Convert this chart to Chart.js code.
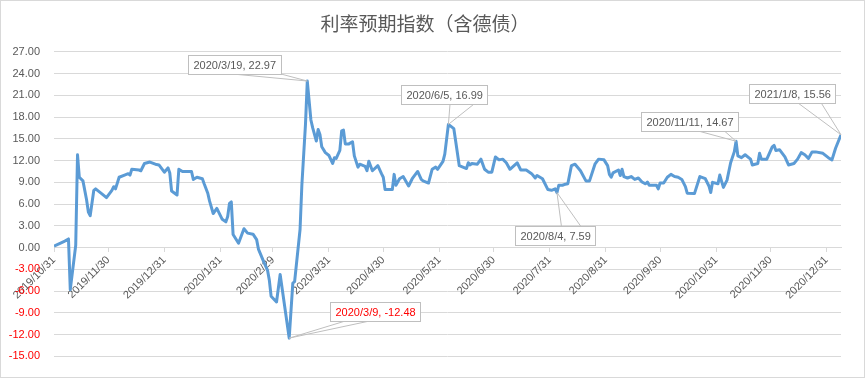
<!DOCTYPE html>
<html>
<head>
<meta charset="utf-8">
<script src="https://cdn.jsdelivr.net/npm/chart.js"></script>
<style>
  body { margin: 0; background: #fff; }
  #wrap { width: 863px; height: 376px; border: 1px solid #d9d9d9; }
</style>
</head>
<body>
<div id="wrap"><canvas id="c" width="863" height="376"></canvas></div>
<script>
// series: 利率预期指数（含德债）
var dates = [
  '2019/10/31','2019/11/6','2019/11/8','2019/11/9','2019/11/12','2019/11/13','2019/11/14','2019/11/16',
  '2019/11/18','2019/11/19','2019/11/20','2019/11/22','2019/11/23','2019/11/27','2019/11/29','2019/12/2',
  '2019/12/3','2019/12/4','2019/12/6','2019/12/9','2019/12/11','2019/12/12','2019/12/13','2019/12/17',
  '2019/12/18','2019/12/20','2019/12/23','2019/12/26','2019/12/28','2019/12/31','2020/1/2','2020/1/3',
  '2020/1/4','2020/1/7','2020/1/8','2020/1/10','2020/1/15','2020/1/16','2020/1/18','2020/1/21',
  '2020/1/22','2020/1/24','2020/1/25','2020/1/27','2020/1/29','2020/2/1','2020/2/3','2020/2/4',
  '2020/2/5','2020/2/6','2020/2/7','2020/2/10','2020/2/13','2020/2/15','2020/2/18','2020/2/20',
  '2020/2/21','2020/2/24','2020/2/26','2020/2/27','2020/2/28','2020/3/2','2020/3/4','2020/3/9',
  '2020/3/11','2020/3/12','2020/3/15','2020/3/16','2020/3/18','2020/3/19','2020/3/21','2020/3/22',
  '2020/3/24','2020/3/25','2020/3/26','2020/3/27','2020/3/29','2020/3/31','2020/4/2','2020/4/3',
  '2020/4/4','2020/4/6','2020/4/7','2020/4/8','2020/4/9','2020/4/11','2020/4/13','2020/4/14',
  '2020/4/16','2020/4/17','2020/4/20','2020/4/21','2020/4/22','2020/4/24','2020/4/27','2020/4/29',
  '2020/4/30','2020/5/1','2020/5/5','2020/5/6','2020/5/7','2020/5/9','2020/5/11','2020/5/14',
  '2020/5/16','2020/5/19','2020/5/21','2020/5/22','2020/5/25','2020/5/27','2020/5/29','2020/5/30',
  '2020/6/2','2020/6/3','2020/6/5','2020/6/8','2020/6/9','2020/6/11','2020/6/15','2020/6/16',
  '2020/6/17','2020/6/18','2020/6/21','2020/6/23','2020/6/25','2020/6/27','2020/6/29','2020/7/1',
  '2020/7/3','2020/7/5','2020/7/7','2020/7/9','2020/7/13','2020/7/15','2020/7/18','2020/7/21',
  '2020/7/23','2020/7/24','2020/7/27','2020/7/30','2020/8/1','2020/8/3','2020/8/4','2020/8/5',
  '2020/8/7','2020/8/8','2020/8/10','2020/8/12','2020/8/14','2020/8/17','2020/8/20','2020/8/22',
  '2020/8/25','2020/8/27','2020/8/30','2020/9/1','2020/9/2','2020/9/3','2020/9/4','2020/9/7',
  '2020/9/8','2020/9/9','2020/9/10','2020/9/12','2020/9/14','2020/9/16','2020/9/18','2020/9/20',
  '2020/9/22','2020/9/23','2020/9/24','2020/9/28','2020/9/29','2020/9/30','2020/10/2','2020/10/4',
  '2020/10/6','2020/10/8','2020/10/10','2020/10/12','2020/10/14','2020/10/15','2020/10/19','2020/10/22',
  '2020/10/25','2020/10/27','2020/10/28','2020/10/29','2020/11/1','2020/11/2','2020/11/4','2020/11/6',
  '2020/11/8','2020/11/10','2020/11/11','2020/11/12','2020/11/14','2020/11/16','2020/11/19','2020/11/20',
  '2020/11/23','2020/11/24','2020/11/25','2020/11/28','2020/12/1','2020/12/2','2020/12/3','2020/12/5',
  '2020/12/8','2020/12/10','2020/12/13','2020/12/15','2020/12/17','2020/12/19','2020/12/21','2020/12/23',
  '2020/12/25','2020/12/29','2021/1/1','2021/1/3','2021/1/5','2021/1/8'
];
var values = [
  0.2, 0.9, 1.2, -5.8, 0.3, 12.8, 9.7, 9.2,
  6.6, 4.9, 4.4, 7.9, 8.1, 7.3, 6.9, 7.9,
  8.4, 8.1, 9.7, 10.0, 10.2, 10.0, 10.8, 10.7,
  10.6, 11.6, 11.8, 11.5, 11.4, 10.4, 11.0, 10.3,
  7.8, 7.25, 10.8, 10.5, 10.5, 9.4, 9.7, 9.5,
  8.8, 7.5, 6.4, 4.7, 5.4, 3.9, 3.55, 4.3,
  6.1, 6.3, 1.8, 0.6, 2.6, 2.0, 1.85, 1.1,
  -0.2, -2.0, -3.1, -4.45, -6.7, -7.5, -3.7, -12.48,
  -4.9, -4.7, 2.5, 8.6, 17.0, 22.97, 17.6, 16.5,
  14.7, 16.3, 15.6, 13.9, 13.1, 12.7, 11.6, 12.4,
  12.3, 13.4, 16.1, 16.2, 14.3, 14.3, 14.6, 12.65,
  11.1, 11.5, 11.2, 10.6, 11.9, 10.6, 11.3, 10.2,
  9.7, 8.0, 8.0, 10.1, 8.6, 9.5, 9.8, 8.5,
  9.5, 10.5, 9.4, 9.2, 8.9, 10.8, 11.1, 10.8,
  11.9, 12.9, 16.99, 16.4, 14.7, 11.3, 10.9, 11.7,
  11.4, 11.6, 11.5, 12.2, 10.8, 10.4, 10.4, 12.5,
  12.1, 12.2, 11.7, 10.8, 11.7, 10.7, 10.7, 10.2,
  9.6, 9.95, 9.5, 8.0, 7.9, 8.1, 7.59, 8.6,
  8.6, 8.7, 8.8, 11.3, 11.5, 10.6, 9.2, 9.2,
  11.5, 12.2, 12.1, 11.3, 10.1, 9.7, 10.3, 10.7,
  9.95, 10.8, 9.8, 9.6, 9.8, 9.4, 9.6, 9.05,
  8.8, 9.05, 8.6, 8.6, 8.1, 8.9, 8.9, 9.7,
  10.1, 9.8, 9.7, 9.4, 8.4, 7.5, 7.45, 9.8,
  9.5, 8.5, 7.6, 9.0, 8.8, 10.0, 8.3, 9.3,
  11.7, 13.2, 14.67, 12.65, 12.4, 12.8, 12.2, 11.4,
  11.6, 13.0, 12.2, 12.2, 13.9, 14.1, 13.4, 13.5,
  12.5, 11.4, 11.6, 12.2, 13.1, 12.8, 12.3, 13.2,
  13.2, 13.0, 12.4, 12.1, 13.7, 15.56
];
var tickLabels = ['2019/10/31','2019/11/30','2019/12/31','2020/1/31','2020/2/29','2020/3/31','2020/4/30',
  '2020/5/31','2020/6/30','2020/7/31','2020/8/31','2020/9/30','2020/10/31','2020/11/30','2020/12/31'];
var calloutDates = ['2020/3/19','2020/3/9','2020/6/5','2020/8/4','2020/11/11','2021/1/8'];
// [dx, dy, side of wedge, wedge base start, wedge base end]
var calloutLayout = [
  [-119, -26, 'bottom', 0.48, 1.0],
  [41, -36, 'bottom', 0.17, 0.44],
  [-47, -39, 'bottom', 0.57, 0.85],
  [-42, 33, 'top', 0.58, 0.82],
  [-95, -29, 'bottom', 0.59, 0.86],
  [-92, -51, 'bottom', 0.57, 0.84]
];

function dayNum(s) {
  var p = s.split('/').map(Number);
  return Math.round((Date.UTC(p[0], p[1] - 1, p[2]) - Date.UTC(2019, 9, 31)) / 86400000);
}
var tickDays = tickLabels.map(dayNum);
var points = dates.map(function (d, i) { return {x: dayNum(d), y: values[i]}; });

var FONT = '"Liberation Sans", Arial, sans-serif';
Chart.defaults.font.family = FONT;
Chart.defaults.font.size = 11;
Chart.defaults.color = '#595959';

var calloutPlugin = {
  id: 'callouts',
  afterDatasetsDraw: function (chart) {
    var ctx = chart.ctx, xs = chart.scales.x, ys = chart.scales.y;
    ctx.save();
    ctx.font = '11px ' + FONT;
    calloutDates.forEach(function (d, i) {
      var v = values[dates.indexOf(d)];
      var px = xs.getPixelForValue(dayNum(d)), py = ys.getPixelForValue(v);
      var text = d + ', ' + v.toFixed(2);
      var w = Math.round(ctx.measureText(text).width + 10), h = 19;
      var L = calloutLayout[i];
      var bx = Math.round(px + L[0]), by = Math.round(py + L[1]);
      var ey = L[2] === 'top' ? by : by + h;
      ctx.strokeStyle = '#bfbfbf';
      ctx.lineWidth = 1;
      ctx.beginPath();
      ctx.moveTo(bx + w * L[3], ey);
      ctx.lineTo(px, py);
      ctx.lineTo(bx + w * L[4], ey);
      ctx.stroke();
      ctx.fillStyle = '#fff';
      ctx.fillRect(bx + 0.5, by + 0.5, w, h);
      ctx.strokeRect(bx + 0.5, by + 0.5, w, h);
      ctx.fillStyle = v < 0 ? '#ff0000' : '#595959';
      ctx.textBaseline = 'middle';
      ctx.fillText(text, bx + 5.5, by + h / 2 + 1);
    });
    ctx.restore();
  }
};

new Chart(document.getElementById('c').getContext('2d'), {
  type: 'line',
  data: {
    datasets: [{
      label: '利率预期指数（含德债）',
      data: points,
      borderColor: '#5b9bd5',
      borderWidth: 3,
      pointRadius: 0,
      borderJoinStyle: 'round',
      tension: 0,
      fill: false
    }]
  },
  options: {
    responsive: false,
    animation: false,
    layout: { padding: { left: 8, right: 23, top: 0, bottom: 14 } },
    plugins: {
      legend: { display: false },
      tooltip: { enabled: false },
      title: {
        display: true,
        text: '利率预期指数（含德债）',
        color: '#595959',
        font: { family: '"Noto Sans CJK SC", sans-serif', size: 19, weight: 'normal' },
        padding: { top: 11, bottom: 17 }
      }
    },
    scales: {
      x: {
        type: 'linear',
        position: { y: 0 },
        min: 0,
        max: dayNum(dates[dates.length - 1]),
        afterBuildTicks: function (s) {
          s.ticks = tickDays.map(function (v) { return {value: v}; });
        },
        ticks: {
          autoSkip: false,
          minRotation: 45,
          maxRotation: 45,
          padding: 2,
          color: '#595959',
          callback: function (v, i) { return tickLabels[i]; }
        },
        grid: { drawOnChartArea: false, color: '#d9d9d9', tickLength: 4 },
        border: { color: '#d9d9d9' }
      },
      y: {
        min: -15,
        max: 27,
        afterFit: function (s) { s.width = 45; },
        ticks: {
          stepSize: 3,
          padding: 14,
          color: function (c) { return c.tick.value < 0 ? '#ff0000' : '#595959'; },
          callback: function (v) { return v.toFixed(2); }
        },
        grid: { color: '#d9d9d9', drawTicks: false },
        border: { display: false }
      }
    }
  },
  plugins: [calloutPlugin]
});
</script>
</body>
</html>
